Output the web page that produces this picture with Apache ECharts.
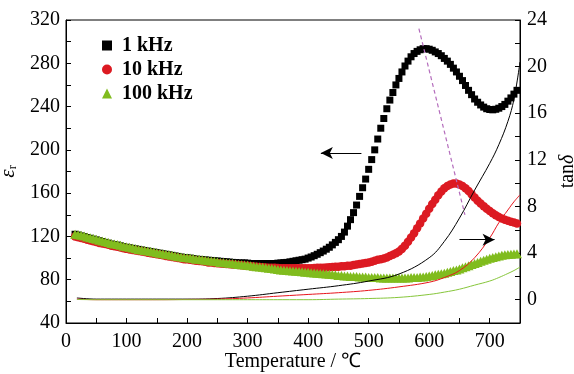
<!DOCTYPE html>
<html>
<head>
<meta charset="utf-8">
<script src="https://cdn.jsdelivr.net/npm/echarts@6/dist/echarts.min.js"></script>
<style>
  html, body { margin: 0; padding: 0; background: #fff; }
  #chart { width: 574px; height: 374px; }
</style>
</head>
<body>
<div id="chart"></div>
<script>
// measurement temperatures (5 degC step)
const temps = [
  15, 20, 25, 30, 35, 40, 45, 50, 55, 60, 65, 70, 75, 80, 85, 90, 95, 100, 105, 110,
  115, 120, 125, 130, 135, 140, 145, 150, 155, 160, 165, 170, 175, 180, 185, 190, 195, 200, 205, 210,
  215, 220, 225, 230, 235, 240, 245, 250, 255, 260, 265, 270, 275, 280, 285, 290, 295, 300, 305, 310,
  315, 320, 325, 330, 335, 340, 345, 350, 355, 360, 365, 370, 375, 380, 385, 390, 395, 400, 405, 410,
  415, 420, 425, 430, 435, 440, 445, 450, 455, 460, 465, 470, 475, 480, 485, 490, 495, 500, 505, 510,
  515, 520, 525, 530, 535, 540, 545, 550, 555, 560, 565, 570, 575, 580, 585, 590, 595, 600, 605, 610,
  615, 620, 625, 630, 635, 640, 645, 650, 655, 660, 665, 670, 675, 680, 685, 690, 695, 700, 705, 710,
  715, 720, 725, 730, 735, 740, 745
]

const eps1k = [
  122, 121.3, 120.5, 119.8, 119, 118.3, 117.5, 116.8, 116, 115.3, 114.5, 113.8, 113, 112.5, 112, 111.3, 110.5, 110, 109.5, 109,
  108.5, 108, 107.5, 107, 106.5, 106, 105.5, 105, 104.5, 104, 103.5, 103, 102.5, 102, 101.5, 101, 100.5, 100.3, 100, 99.5,
  99, 98.8, 98.5, 98.3, 98, 97.8, 97.5, 97.3, 97, 96.8, 96.5, 96.3, 96, 95.8, 95.5, 95.5, 95.5, 95.3, 95, 95,
  95, 95, 95, 95, 95, 95, 95, 95.3, 95.5, 95.8, 96, 96.5, 97, 97.5, 98, 98.5, 99, 100, 101, 102.2,
  103.5, 105, 106.5, 108.2, 110, 112.2, 114.5, 117, 120, 124, 129.5, 135.5, 142, 149, 157, 165, 173, 182, 191, 200,
  210, 220, 229, 238, 246, 253, 260, 266, 272, 277.5, 282, 286, 289, 291, 292.5, 293.5, 293.5, 293, 292, 290.5,
  289, 287, 284.5, 282, 279, 275.5, 272, 268, 264, 259.5, 255, 251, 247, 244, 241.5, 239.5, 238, 237.3, 237, 237.5,
  238.5, 240, 242, 245, 248, 251.5, 255
]

const eps10k = [
  120, 119.3, 118.5, 117.8, 117, 116.3, 115.5, 114.8, 114, 113.5, 113, 112.3, 111.5, 111, 110.5, 109.8, 109, 108.5, 108, 107.5,
  107, 106.5, 106, 105.5, 105, 104.5, 104, 103.5, 103, 102.5, 102, 101.5, 101, 100.5, 100, 99.5, 99, 98.8, 98.5, 98,
  97.5, 97.3, 97, 96.5, 96, 95.8, 95.5, 95.3, 95, 94.8, 94.5, 94.3, 94, 93.8, 93.5, 93.3, 93, 92.8, 92.5, 92.3,
  92, 91.8, 91.5, 91.3, 91, 91, 91, 90.8, 90.5, 90.5, 90.5, 90.5, 90.5, 90.5, 90.5, 90.5, 90.5, 90.5, 90.5, 90.8,
  91, 91, 91, 91.3, 91.5, 91.8, 92, 92, 92.5, 92.5, 93, 93, 93.5, 94, 94.5, 95, 95.5, 96, 96.5, 97.5,
  98.5, 99, 99.5, 100.5, 102, 103, 104.5, 106, 108.5, 111.5, 115, 119, 123, 127.5, 132, 136.5, 141, 145.5, 150, 154,
  158, 161.5, 164.5, 166.5, 168, 169, 169, 168, 166.5, 164.5, 162, 159, 156, 153, 150.5, 148, 145.5, 143.5, 141.5, 139.5,
  138, 136.5, 135.5, 134.5, 133.5, 132.8, 132
]

const eps100k = [
  122, 121.5, 121, 120.3, 119.5, 118.8, 118, 117.3, 116.5, 115.8, 115, 114.3, 113.5, 113, 112.5, 111.8, 111, 110.5, 110, 109.3,
  108.5, 108, 107.5, 107, 106.5, 106, 105.5, 105, 104.5, 104, 103.5, 103, 102.5, 102, 101.5, 101, 100.5, 100.3, 100, 99.5,
  99, 98.8, 98.5, 98, 97.5, 97.3, 97, 96.5, 96, 95.8, 95.5, 95.3, 95, 94.5, 94, 93.8, 93.5, 93.3, 93, 92.5,
  92, 91.8, 91.5, 91, 90.5, 90.3, 90, 89.5, 89, 88.8, 88.5, 88.3, 88, 87.8, 87.5, 87.3, 87, 86.8, 86.5, 86.3,
  86, 85.8, 85.5, 85.3, 85, 84.8, 84.5, 84, 84, 83.5, 83.5, 83, 83, 83, 82.5, 82.5, 82.5, 82, 82, 82,
  82, 81.5, 81.5, 81.5, 81.5, 81.5, 81.5, 81.5, 81.5, 81.5, 81.5, 82, 82, 82, 82.5, 82.5, 83, 83.5, 84, 84.5,
  85, 85.5, 86, 87, 87.5, 88.5, 89, 90, 91, 92, 93, 94, 95, 96, 97, 98, 99, 99.8, 100.5, 101.3,
  102, 102.5, 103, 103.3, 103.5, 103.8, 104
]

// loss tangent curves (right axis)
const tempsTan = [18, 50, 100, 150, 200, 250, 300, 350, 400, 450, 500, 550, 600, 625, 650, 675, 700, 715, 730, 740, 750]
const tan1k = [0.15, 0.05, 0.05, 0.05, 0.05, 0.1, 0.3, 0.6, 0.9, 1.2, 1.6, 2.2, 3.6, 5.0, 7.0, 9.4, 11.7, 13.3, 15.3, 17.2, 20.4]
const tan10k = [0.05, 0, 0, 0, 0.02, 0.05, 0.15, 0.3, 0.45, 0.6, 0.8, 1.1, 1.5, 1.9, 2.5, 3.6, 5.3, 6.6, 7.7, 8.4, 9.0]
const tan100k = [0.02, 0, 0, 0, 0, 0, 0, 0, 0, 0.05, 0.1, 0.2, 0.45, 0.65, 0.9, 1.25, 1.6, 1.9, 2.25, 2.5, 2.8]

// annotations: peak shift guide and the two arrows (data units, left axis)
const peakGuide = [[583, 312], [659, 140]]
const arrowLeft = [[488, 197], [421, 197]]
const arrowRight = [[650, 117], [708, 117]]

const pts = (xs, ys) => xs.map((x, i) => [x, ys[i]])

const FONT = 'Liberation Serif'

const chart = echarts.init(document.getElementById('chart'))

const tickStyle = { show: true, inside: true, length: 5, lineStyle: { color: '#000', width: 1 } }
const labelStyle = { color: '#000', fontFamily: FONT, fontSize: 20 }

chart.setOption({
  animation: false,
  backgroundColor: '#fff',
  grid: {
    left: 66, right: 54, top: 20, bottom: 51,
    outerBoundsMode: 'none',
    show: true, borderColor: '#000', borderWidth: 1
  },
  legend: {
    orient: 'vertical',
    left: 97,
    top: 30,
    itemWidth: 10,
    itemHeight: 10,
    itemGap: 3,
    data: [
      { name: '1 kHz', icon: 'rect' },
      { name: '10 kHz', icon: 'circle' },
      { name: '100 kHz', icon: 'triangle' }
    ],
    textStyle: { color: '#000', fontFamily: FONT, fontSize: 20, fontWeight: 'bold', lineHeight: 21, padding: [0, 0, 0, 5] }
  },
  xAxis: {
    type: 'value',
    min: 0,
    max: 750,
    interval: 50,
    name: 'Temperature / ℃',
    nameLocation: 'middle',
    nameGap: 29,
    nameMoveOverlap: false,
    nameTextStyle: { color: '#000', fontFamily: FONT, fontSize: 20 },
    axisLine: { onZero: false, lineStyle: { color: '#000', width: 1 } },
    axisTick: tickStyle,
    axisLabel: { ...labelStyle, margin: 9, formatter: v => (v % 100 === 0 && v < 750 ? v : '') },
    splitLine: { show: false }
  },
  yAxis: [
    {
      type: 'value',
      min: 40,
      max: 320,
      interval: 20,
      name: '{e|ε}{r|r}',
      nameLocation: 'middle',
      nameRotate: 90,
      nameGap: 46,
      nameTextStyle: {
        rich: {
          e: { fontFamily: FONT, fontStyle: 'italic', fontSize: 21, color: '#000', lineHeight: 22 },
          r: { fontFamily: FONT, fontSize: 12, color: '#000', verticalAlign: 'bottom', lineHeight: 12 }
        }
      },
      axisLine: { show: true, onZero: false, lineStyle: { color: '#000', width: 1 } },
      axisTick: tickStyle,
      axisLabel: { ...labelStyle, margin: 6, formatter: v => (v % 40 === 0 ? v : '') },
      splitLine: { show: false }
    },
    {
      type: 'value',
      position: 'right',
      min: -2,
      max: 24,
      interval: 2,
      name: '{t|tan}{d|δ}',
      nameLocation: 'middle',
      nameRotate: 90,
      nameGap: 37,
      nameTextStyle: {
        rich: {
          t: { fontFamily: FONT, fontSize: 20, color: '#000' },
          d: { fontFamily: FONT, fontStyle: 'italic', fontSize: 20, color: '#000' }
        }
      },
      axisLine: { show: true, onZero: false, lineStyle: { color: '#000', width: 1 } },
      axisTick: tickStyle,
      axisLabel: { ...labelStyle, margin: 7, formatter: v => (v >= 0 && v % 4 === 0 ? v : '') },
      splitLine: { show: false }
    }
  ],
  series: [
    {
      name: '1 kHz',
      type: 'scatter',
      symbol: 'rect',
      symbolSize: 7,
      itemStyle: { color: '#000', opacity: 1 },
      data: pts(temps, eps1k)
    },
    {
      name: '10 kHz',
      type: 'scatter',
      symbol: 'circle',
      symbolSize: 8.5,
      itemStyle: { color: '#dc1a22', opacity: 1 },
      data: pts(temps, eps10k)
    },
    {
      name: '100 kHz',
      type: 'scatter',
      symbol: 'triangle',
      symbolSize: [10, 9],
      itemStyle: { color: '#80bc1e', opacity: 1 },
      data: pts(temps, eps100k)
    },
    {
      name: 'tan 1 kHz',
      type: 'line',
      yAxisIndex: 1,
      smooth: 0.4,
      showSymbol: false,
      lineStyle: { color: '#000', width: 1 },
      data: pts(tempsTan, tan1k)
    },
    {
      name: 'tan 10 kHz',
      type: 'line',
      yAxisIndex: 1,
      smooth: 0.4,
      showSymbol: false,
      lineStyle: { color: '#e8141c', width: 1 },
      data: pts(tempsTan, tan10k)
    },
    {
      name: 'tan 100 kHz',
      type: 'line',
      yAxisIndex: 1,
      smooth: 0.4,
      showSymbol: false,
      lineStyle: { color: '#86c63a', width: 1 },
      data: pts(tempsTan, tan100k)
    },
    {
      name: 'guide',
      type: 'line',
      showSymbol: false,
      lineStyle: { color: '#b46cbc', width: 1.2, type: [4, 3] },
      data: peakGuide
    },
    {
      name: 'arrows',
      type: 'line',
      data: [],
      markLine: {
        silent: true,
        symbol: ['none', 'arrow'],
        symbolSize: [9, 12],
        label: { show: false },
        lineStyle: { color: '#000', width: 1.2, type: 'solid' },
        emphasis: { disabled: true },
        data: [
          [{ coord: arrowLeft[0] }, { coord: arrowLeft[1] }],
          [{ coord: arrowRight[0] }, { coord: arrowRight[1] }]
        ]
      }
    }
  ]
})
</script>
</body>
</html>
